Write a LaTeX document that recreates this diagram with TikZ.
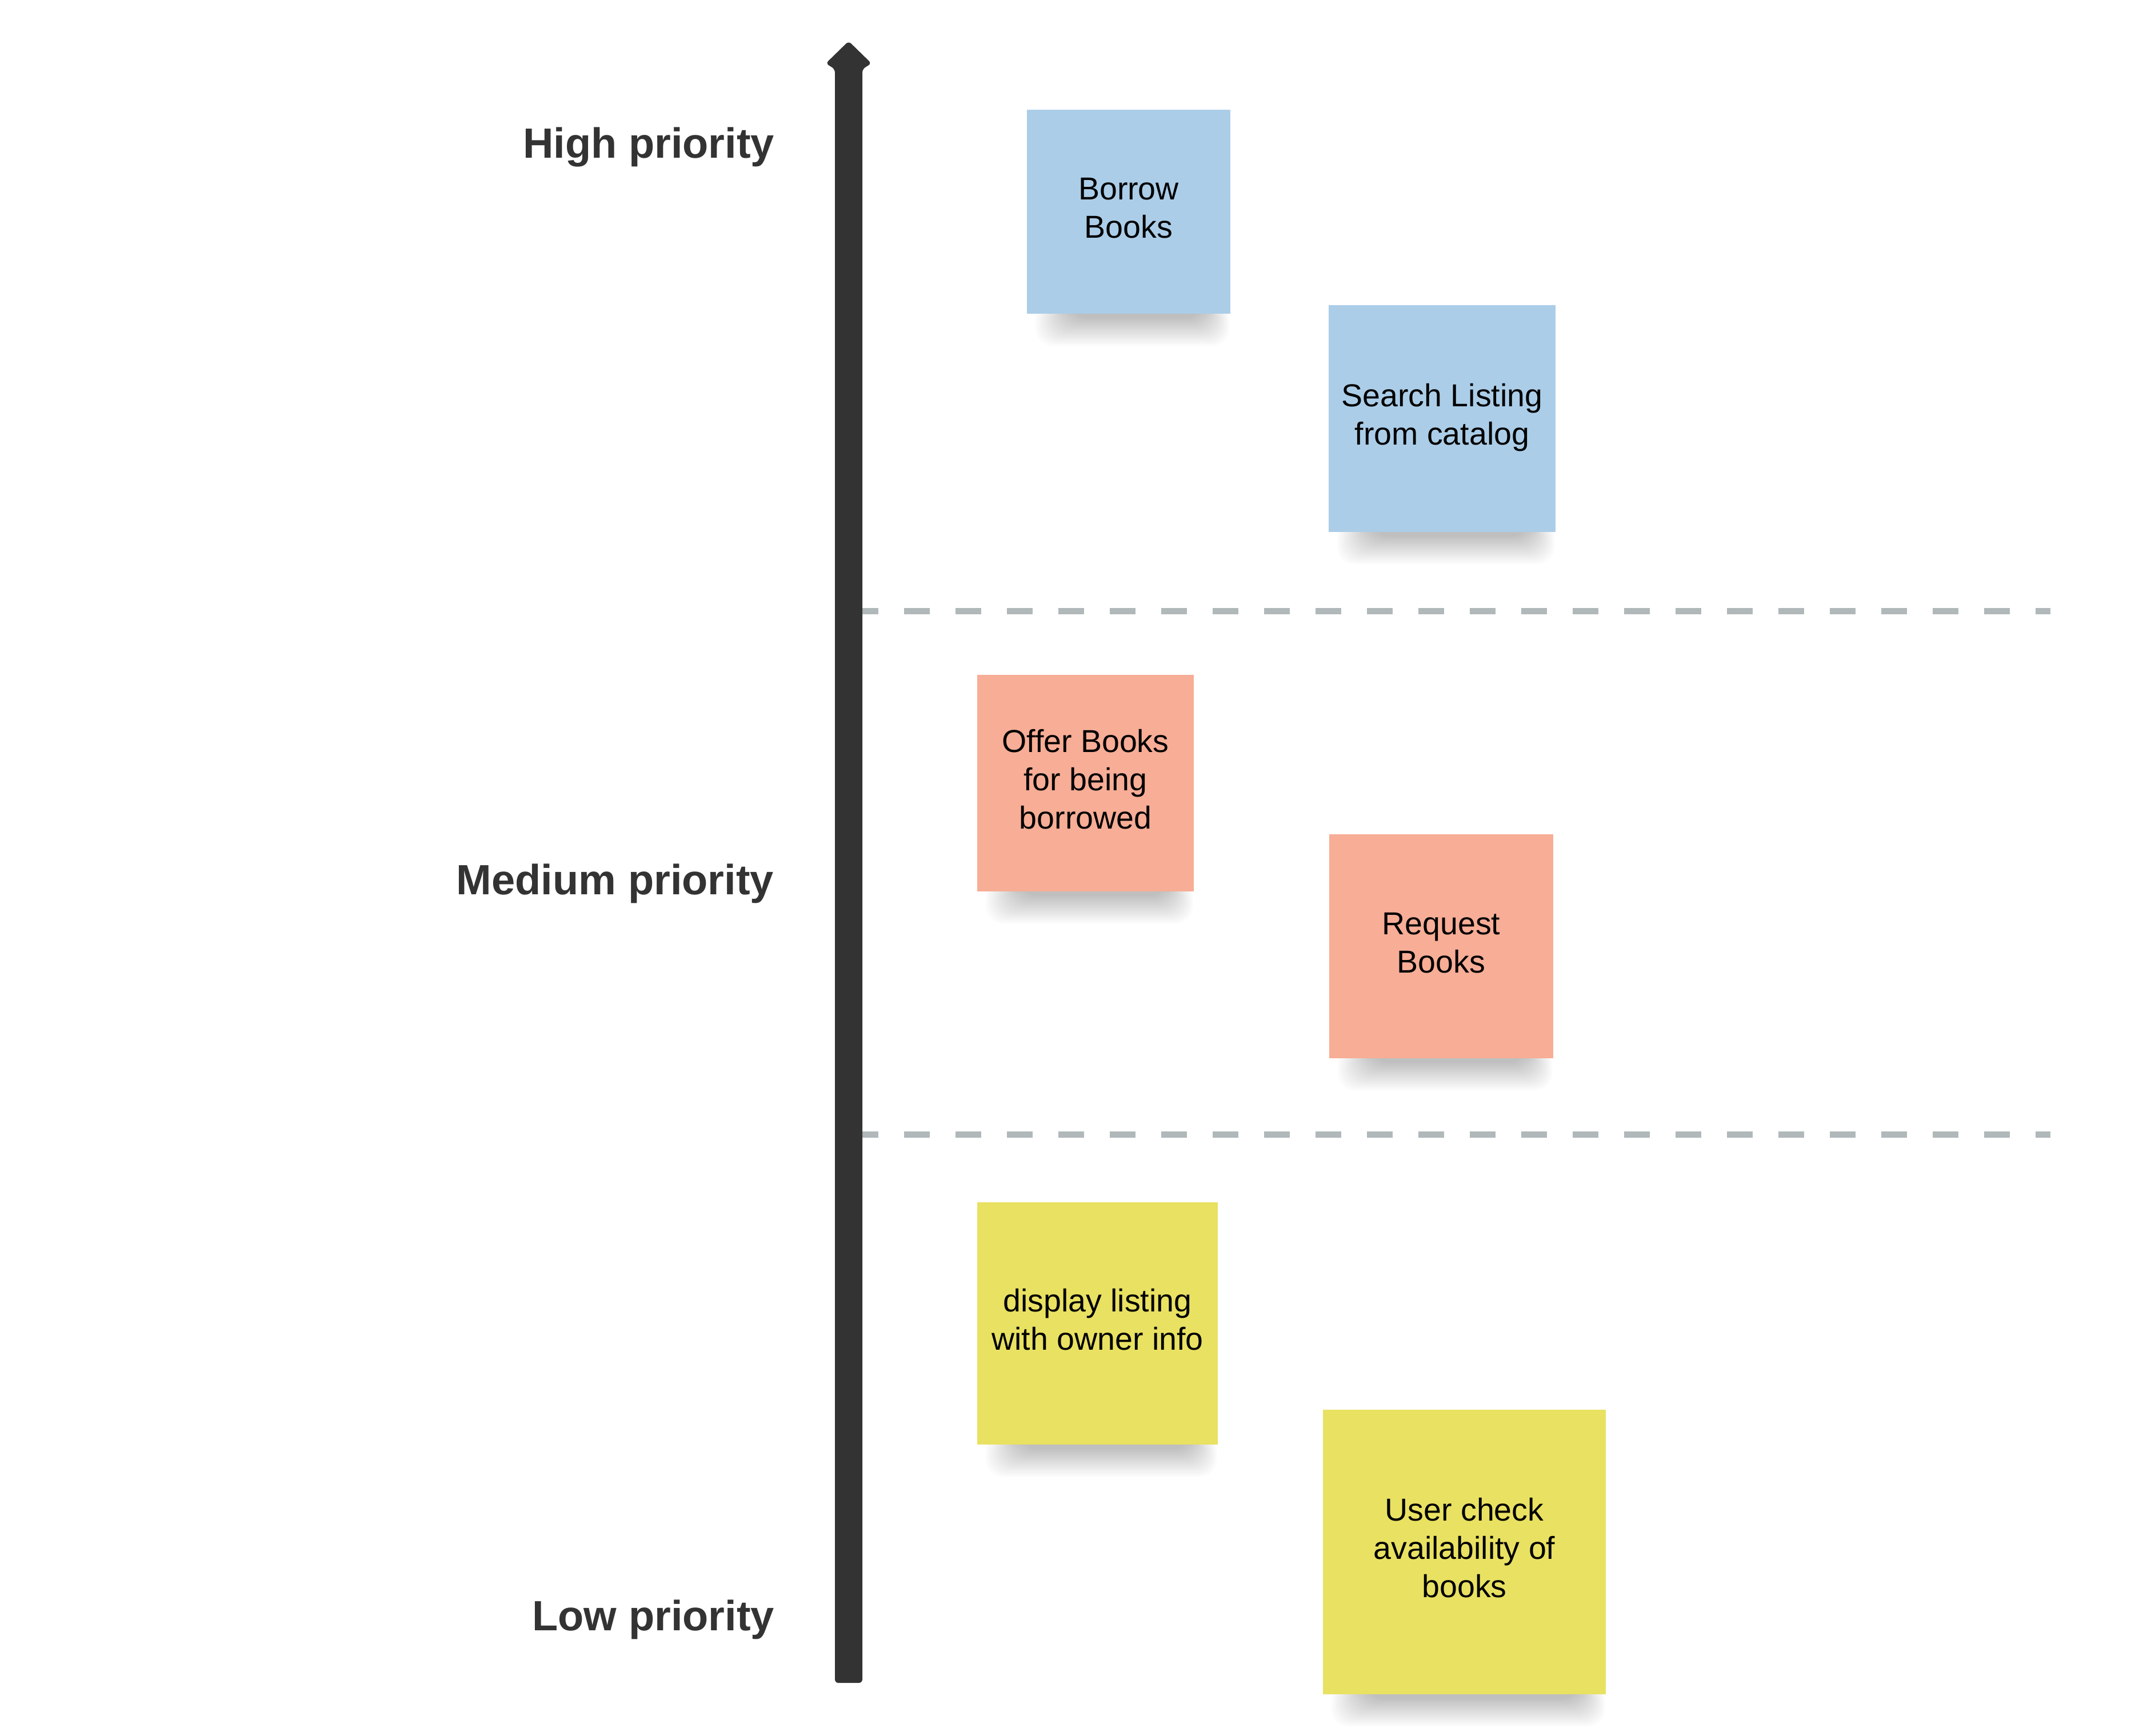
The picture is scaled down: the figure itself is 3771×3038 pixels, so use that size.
\documentclass[tikz,border=0pt]{standalone}
\usepackage{fontspec}
\setmainfont{Liberation Sans}
\definecolor{noteblue}{HTML}{ABCDE8}
\definecolor{notesalmon}{HTML}{F7AD96}
\definecolor{noteyellow}{HTML}{E9E162}
\definecolor{axisgray}{HTML}{333333}
\definecolor{dashgray}{HTML}{B0B8BA}
\newcommand\nstrut{\rule[-4pt]{0pt}{13pt}}
\newcommand\stickynote[7]{%
  \foreach \k in {0,...,15}{%
    \fill[black,opacity=0.016,rounded corners=6pt]
      ({#2+15+4*\k},{#5-20}) rectangle ({#4-2-3*\k},{#5+56-3.2*\k});}
  \node[notebox, fill=#6, minimum width={(#4-#2)*0.2pt}, minimum height={(#5-#3)*0.2pt}]
    (#1) at ({(#2+#4)/2},{(#3+#5)/2}) {#7};
}
\begin{document}
\begin{tikzpicture}[x=0.2pt,y=-0.2pt,
  notebox/.style={draw=none, inner sep=0pt, align=center, text=black,
    font=\fontsize{11.1}{13.4}\selectfont},
  prio/.style={font=\fontsize{14.8}{18}\selectfont\bfseries, text=axisgray,
    anchor=base east, inner sep=0pt},
  divider/.style={dashgray, line width=2.2pt, dash pattern=on 9pt off 9pt}]
\fill[white] (0,0) rectangle (3771,3038);
\useasboundingbox (0,0) rectangle (3771,3038);

% dividers
\coordinate (d1s) at (1492,1069.5);
\coordinate (d1e) at (3588,1069.5);
\coordinate (d2s) at (1492,1985);
\coordinate (d2e) at (3588,1985);
\draw[divider] (d1s) -- (d1e);
\draw[divider] (d2s) -- (d2e);

% priority axis
\fill[axisgray, rounded corners=1.2pt]
  (1461,121) -- (1461,2945) -- (1509,2945) -- (1509,121)
  -- (1525,111) -- (1485,72) -- (1445,111) -- cycle;

% labels
\node[prio] (high) at (1356,276) {High priority};
\node[prio] (medium) at (1355,1565) {Medium priority};
\node[prio] (low) at (1356,2853) {Low priority};

% sticky notes
\stickynote{borrow}{1797}{192}{2153}{549}{noteblue}{\nstrut Borrow\\\nstrut Books}
\stickynote{search}{2325}{534}{2722}{931}{noteblue}{\nstrut Search Listing\\\nstrut from catalog}
\stickynote{offer}{1710}{1181}{2089}{1560}{notesalmon}{\nstrut Offer Books\\\nstrut for being\\\nstrut borrowed}
\stickynote{request}{2326}{1460}{2718}{1852}{notesalmon}{\nstrut Request\\\nstrut Books}
\stickynote{display}{1710}{2104}{2131}{2528}{noteyellow}{\nstrut display listing\\\nstrut with owner info}
\stickynote{user}{2315}{2467}{2810}{2965}{noteyellow}{\nstrut User check\\\nstrut availability of\\\nstrut books}
\end{tikzpicture}
\end{document}
